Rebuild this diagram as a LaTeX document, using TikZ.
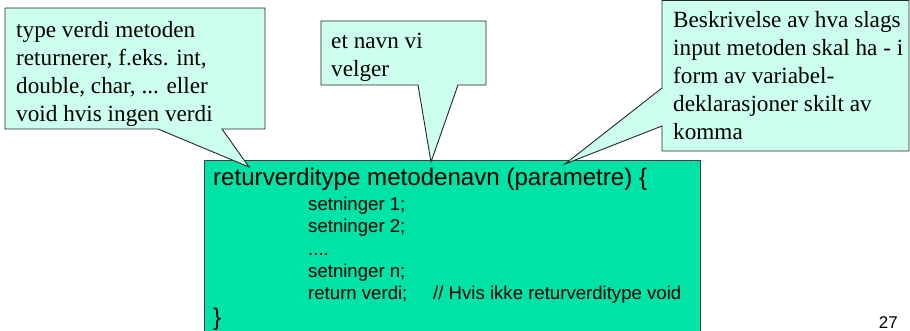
\documentclass[tikz,border=0pt]{standalone}
\usepackage{fontspec}
\setmainfont{Liberation Serif}
\setsansfont{Liberation Sans}
\usetikzlibrary{positioning}

\definecolor{notefill}{RGB}{204,255,238}
\definecolor{codefill}{RGB}{0,227,166}

\begin{document}
\begin{tikzpicture}[
    x=1pt, y=-1pt,
    every node/.style={inner sep=0pt},
    callout/.style={draw=black!85, line width=0.9pt, fill=notefill, line join=miter},
    notetext/.style={font=\fontsize{23.2}{28}\selectfont, align=left, anchor=north west},
    codebox/.style={draw=black!75, line width=1.2pt, fill=codefill, anchor=north west},
    headline/.style={font=\sffamily\fontsize{24.1}{28}\selectfont, anchor=base west},
    codeline/.style={font=\sffamily\fontsize{18.6}{22}\selectfont, anchor=base west}
]
\useasboundingbox (0,0) rectangle (910,331);

% ============ METHOD BOX ============
\node[codebox, minimum width=496pt, minimum height=200pt] (code) at (204,160) {};

\node[headline] (head) at (213,186) {returverditype metodenavn (parametre) \{};
\node[codeline] (line1) at (308,211) {setninger 1;};
\node[codeline] (line2) at (308,233) {setninger 2;};
\node[codeline] (dots) at (308,255) {....};
\node[codeline] (linen) at (308,277) {setninger n;};
\node[codeline] (retline) at (308,299) {return verdi;};
\node[codeline] (comment) at (433,299) {// Hvis ikke returverditype void};
\node[headline] (close) at (213,325) {\}};

% ============ CALLOUTS ============
\coordinate (typetip) at (249,167);
\coordinate (nametip) at (431,162);
\coordinate (paramtip) at (565,164);

\draw[callout] (5,8) -- (265,8) -- (265,129) -- (222,129) -- (typetip)
    -- (158,129) -- (5,129) -- cycle;
\draw[callout] (321,21) -- (486,21) -- (486,85) -- (458,85) -- (nametip)
    -- (418,85) -- (321,85) -- cycle;
\draw[callout] (662,0.5) -- (909,0.5) -- (909,151) -- (662,151) -- (662,126)
    -- (paramtip) -- (662,88) -- cycle;

\node[notetext] (typenote) at (16,21.3) {type verdi metoden\\returnerer, f.eks. int,\\double, char, ... eller\\void hvis ingen verdi};
\node[notetext] (namenote) at (331,33.3) {et navn vi\\velger};
\node[notetext] (paramnote) at (673,11.3) {Beskrivelse av hva slags\\input metoden skal ha - i\\form av variabel-\\deklarasjoner skilt av\\komma};

% page number
\node[font=\sffamily\fontsize{17}{20}\selectfont, anchor=base east] (pagenum) at (898,328) {27};

\end{tikzpicture}
\end{document}
